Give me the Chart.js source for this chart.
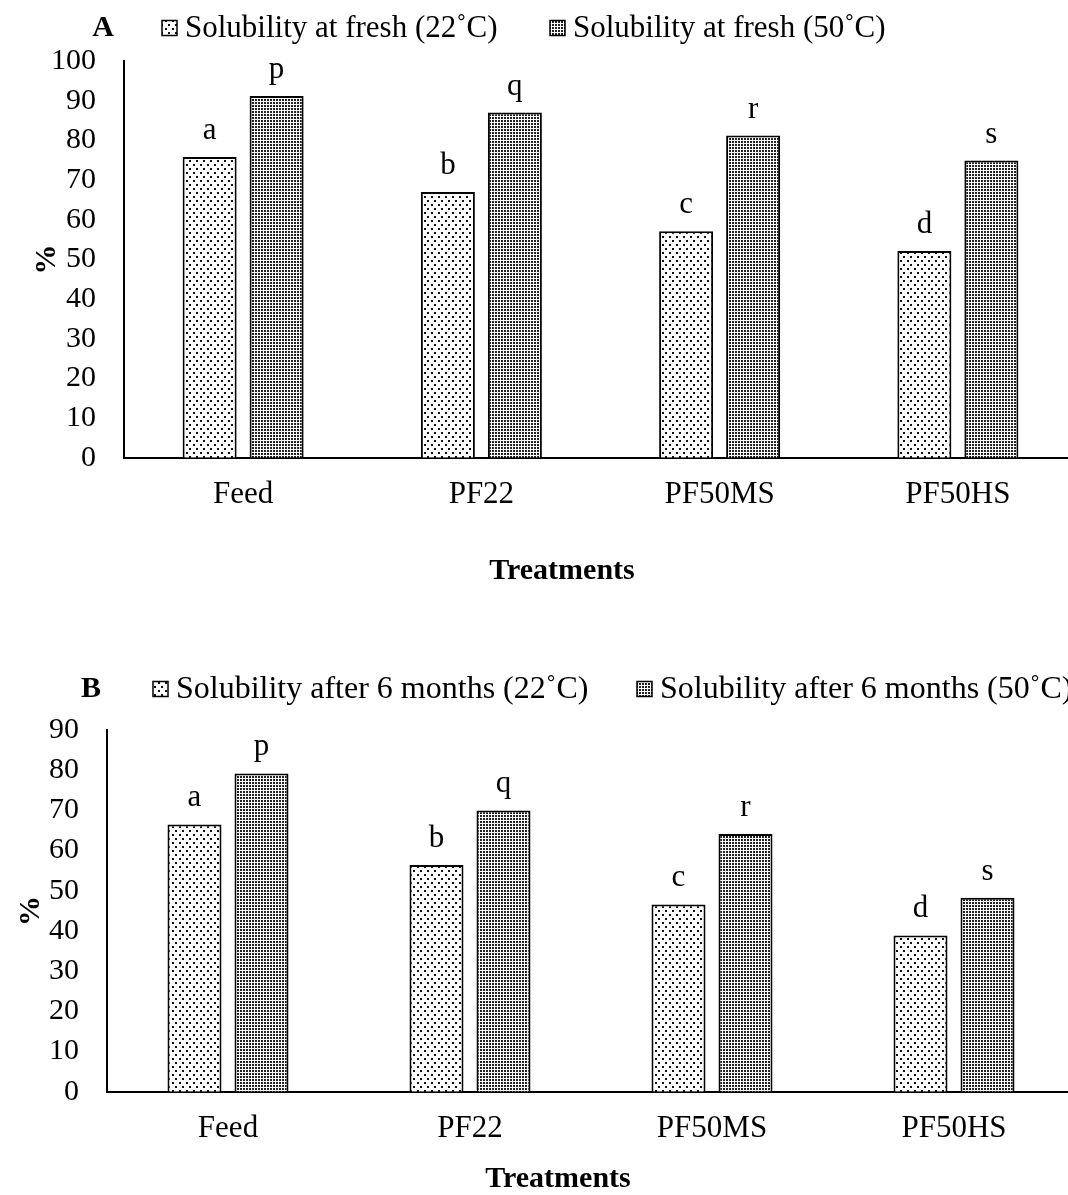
<!DOCTYPE html>
<html>
<head>
<meta charset="utf-8">
<script src="https://cdn.jsdelivr.net/npm/chart.js@4.4.1/dist/chart.umd.min.js"></script>
<style>
    body { margin: 0; width: 1068px; height: 1195px; overflow: hidden; background: #fff; position: relative; }
    canvas { position: absolute; left: 0; }
</style>
</head>
<body>
<canvas id="chartA" width="1080" height="614" style="top:0px;"></canvas>
<canvas id="chartB" width="1080" height="581" style="top:614px;"></canvas>
<script>
// data
const treatments = ['Feed', 'PF22', 'PF50MS', 'PF50HS'];
const freshAt22 = [75.8, 67.0, 57.1, 52.1];
const freshAt50 = [91.2, 87.0, 81.2, 74.9];
const storedAt22 = [66.5, 56.4, 46.6, 38.9];
const storedAt50 = [79.2, 70.0, 64.1, 48.3];
const lettersAt22 = ['a', 'b', 'c', 'd'];
const lettersAt50 = ['p', 'q', 'r', 's'];
const yTicksA = { min: 0, max: 100, step: 10 };
const yTicksB = { min: 0, max: 90, step: 10 };

const FONT = "'Liberation Serif', 'Times New Roman', serif";

// dotted fills like the excel pattern swatches
function makePattern(w, h, dots, color) {
    const c = document.createElement('canvas');
    c.width = w;
    c.height = h;
    const p = c.getContext('2d');
    p.fillStyle = '#fff';
    p.fillRect(0, 0, w, h);
    p.fillStyle = color;
    dots.forEach(d => p.fillRect(d[0], d[1], d[2], d[3]));
    return p.createPattern(c, 'repeat');
}
const sparseDots = makePattern(7, 8, [[0, 0, 2, 2], [4, 4, 2, 2]], '#111');
const denseDots = makePattern(3, 3, [[0, 0, 2, 2]], '#222');

// letters over the bars, panel letter, legend and the x title
const annotations = {
    id: 'annotations',
    afterDatasetsDraw(chart, args, opts) {
        const ctx = chart.ctx;
        ctx.save();
        ctx.fillStyle = '#000';
        ctx.font = `31px ${FONT}`;
        ctx.textAlign = 'center';
        ctx.textBaseline = 'alphabetic';
        chart.data.datasets.forEach((ds, i) => {
            const meta = chart.getDatasetMeta(i);
            meta.data.forEach((bar, j) => {
                ctx.fillText(ds.letters[j], bar.x, bar.y - 18);
            });
        });
        ctx.restore();
    },
    afterDraw(chart, args, opts) {
        const ctx = chart.ctx;
        ctx.save();
        ctx.fillStyle = '#000';
        ctx.textBaseline = 'middle';
        ctx.textAlign = 'center';
        ctx.font = `bold 30px ${FONT}`;
        ctx.fillText(opts.panel, opts.panelX, opts.legendY);
        // axis title sits left of the plot centre in the original
        ctx.fillText('Treatments', opts.xTitleX, chart.chartArea.bottom + opts.xTitleOffset);
        ctx.font = `${opts.legendSize}px ${FONT}`;
        ctx.textAlign = 'left';
        chart.data.datasets.forEach((ds, i) => {
            const x = opts.legendX[i];
            const y = opts.legendY;
            ctx.fillStyle = ds.backgroundColor;
            ctx.fillRect(x, y - 7.5, 15, 15);
            ctx.strokeStyle = '#000';
            ctx.lineWidth = 1.5;
            ctx.strokeRect(x, y - 7.5, 15, 15);
            ctx.fillStyle = '#000';
            ctx.fillText(ds.label, x + 23, y + 1);
        });
        ctx.restore();
    }
};

function barChart(canvasId, labels22, labels50, values22, values50, yTicks, layout) {
    const ctx = document.getElementById(canvasId).getContext('2d');
    return new Chart(ctx, {
        type: 'bar',
        data: {
            labels: treatments,
            datasets: [
                {
                    label: labels22,
                    data: values22,
                    letters: lettersAt22,
                    backgroundColor: sparseDots,
                    borderColor: '#000',
                    borderWidth: 2,
                    categoryPercentage: layout.catPct,
                    barPercentage: 0.806
                },
                {
                    label: labels50,
                    data: values50,
                    letters: lettersAt50,
                    backgroundColor: denseDots,
                    borderColor: '#000',
                    borderWidth: 2,
                    categoryPercentage: layout.catPct,
                    barPercentage: 0.806
                }
            ]
        },
        options: {
            responsive: false,
            animation: false,
            layout: {
                padding: { top: layout.top, bottom: layout.bottom, left: 0, right: layout.right }
            },
            plugins: {
                legend: { display: false },
                tooltip: { enabled: false },
                annotations: {
                    panel: layout.panel,
                    panelX: layout.panelX,
                    legendX: layout.legendX,
                    legendY: layout.legendY,
                    legendSize: layout.legendSize,
                    xTitleX: layout.xTitleX,
                    xTitleOffset: layout.xTitleOffset
                }
            },
            scales: {
                x: {
                    grid: { display: false, drawTicks: false },
                    border: { color: '#000', width: 2 },
                    ticks: {
                        color: '#000',
                        padding: 18,
                        font: { family: FONT, size: 31 },
                        maxRotation: 0
                    }
                },
                y: {
                    min: yTicks.min,
                    max: yTicks.max,
                    grid: { display: false, drawTicks: false },
                    border: { color: '#000', width: 2 },
                    ticks: {
                        stepSize: yTicks.step,
                        autoSkip: false,
                        color: '#000',
                        padding: 28,
                        font: { family: FONT, size: 30 }
                    },
                    title: {
                        display: true,
                        text: '%',
                        color: '#000',
                        font: { family: FONT, size: 30, weight: 'bold' },
                        padding: layout.yTitlePad
                    }
                }
            }
        },
        plugins: [annotations]
    });
}

barChart('chartA', 'Solubility at fresh (22˚C)', 'Solubility at fresh (50˚C)',
    freshAt22, freshAt50, yTicksA, {
        top: 61, bottom: 83, right: 3, catPct: 0.5624,
        yTitlePad: { top: 29, bottom: -42 },
        xTitleX: 562, xTitleOffset: 113,
        panel: 'A', panelX: 103, legendX: [162, 550], legendY: 28, legendSize: 31
    });

barChart('chartB', 'Solubility after 6 months (22˚C)', 'Solubility after 6 months (50˚C)',
    storedAt22, storedAt50, yTicksB, {
        top: 116, bottom: 30, right: 5, catPct: 0.5537,
        yTitlePad: { top: 13, bottom: -28 },
        xTitleX: 558, xTitleOffset: 87,
        panel: 'B', panelX: 91, legendX: [153, 637], legendY: 75, legendSize: 32
    });
</script>
</body>
</html>
